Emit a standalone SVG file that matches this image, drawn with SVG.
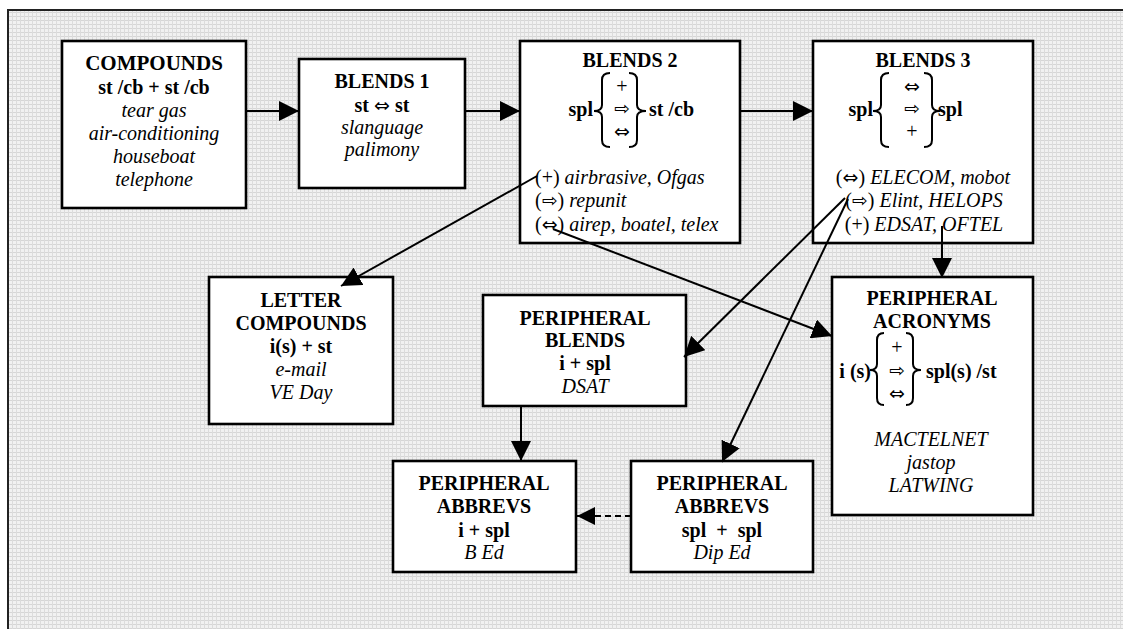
<svg xmlns="http://www.w3.org/2000/svg" width="1123" height="629" viewBox="0 0 1123 629">
<defs>
<pattern id="grid" width="4" height="4" patternUnits="userSpaceOnUse">
<rect width="4" height="4" fill="#f1f1f1"/>
<rect width="4" height="1" fill="#d6d6d6"/>
<rect width="1" height="4" fill="#dcdcdc"/>
</pattern>
<marker id="ah" markerUnits="userSpaceOnUse" markerWidth="20" markerHeight="20" refX="20" refY="10" orient="auto">
<path d="M0,0 L20,10 L0,20 z" fill="#000"/>
</marker>
<marker id="ahs" markerUnits="userSpaceOnUse" markerWidth="18" markerHeight="18" refX="18" refY="9" orient="auto">
<path d="M0,0 L18,9 L0,18 z" fill="#000"/>
</marker>
</defs>
<style>
.box{fill:#fff;stroke:#000;stroke-width:2.6}
.b{font-family:"Liberation Serif","Times New Roman",serif;font-weight:bold;font-size:20px;fill:#000}
.i{font-family:"Liberation Serif","Times New Roman",serif;font-style:italic;font-size:20px;fill:#000}
.r{font-family:"Liberation Serif","Times New Roman",serif;font-size:20px;fill:#000}
.g{font-family:"DejaVu Sans",sans-serif;font-size:19px;font-weight:normal;font-style:normal}
.c{text-anchor:middle}
.brace{fill:none;stroke:#000;stroke-width:2}
.con{fill:none;stroke:#000;stroke-width:2}
</style>
<rect x="0" y="0" width="1123" height="629" fill="#fff"/>
<rect x="8" y="10" width="1115" height="619" fill="url(#grid)"/>
<path d="M8,629 L8,10 L1123,10" fill="none" stroke="#222" stroke-width="2"/>

<g id="compounds">
<rect class="box" x="62" y="41" width="184" height="167"/>
<text class="b c" x="154" y="70" style="font-size:21px">COMPOUNDS</text>
<text class="b c" x="154" y="94">st /cb + st /cb</text>
<text class="i c" x="154" y="117">tear gas</text>
<text class="i c" x="154" y="140">air-conditioning</text>
<text class="i c" x="154" y="163">houseboat</text>
<text class="i c" x="154" y="186">telephone</text>
</g>

<g id="blends1">
<rect class="box" x="299" y="59" width="166" height="129"/>
<text class="b c" x="382" y="88">BLENDS 1</text>
<text class="b c" x="382" y="112">st <tspan class="g">⇔</tspan> st</text>
<text class="i c" x="382" y="134">slanguage</text>
<text class="i c" x="382" y="156">palimony</text>
</g>

<g id="blends2">
<rect class="box" x="520" y="41" width="220" height="202"/>
<text class="b c" x="630" y="67">BLENDS 2</text>
<text class="b" x="593" y="116" text-anchor="end">spl</text>
<path class="brace" d="M610,73 Q602,73 602,80 L602,105 Q602,111 594,111 Q602,111 602,117 L602,140 Q602,147 610,147"/>
<text class="r c" x="622" y="93">+</text>
<text class="r c" x="622" y="115"><tspan class="g">⇨</tspan></text>
<text class="r c" x="622" y="138"><tspan class="g">⇔</tspan></text>
<path class="brace" d="M629,73 Q637,73 637,80 L637,105 Q637,111 646,111 Q637,111 637,117 L637,140 Q637,147 629,147"/>
<text class="b" x="649" y="116">st /cb</text>
<text class="r" x="535" y="184">(+) <tspan class="i">airbrasive, Ofgas</tspan></text>
<text class="r" x="535" y="207">(<tspan class="g">⇨</tspan>) <tspan class="i">repunit</tspan></text>
<text class="r" x="535" y="231">(<tspan class="g">⇔</tspan>) <tspan class="i">airep, boatel, telex</tspan></text>
</g>

<g id="blends3">
<rect class="box" x="813" y="41" width="220" height="202"/>
<text class="b c" x="923" y="67">BLENDS 3</text>
<text class="b" x="873" y="116" text-anchor="end">spl</text>
<path class="brace" d="M889,73 Q881,73 881,80 L881,105 Q881,111 873,111 Q881,111 881,117 L881,140 Q881,147 889,147"/>
<text class="r c" x="912" y="93"><tspan class="g">⇔</tspan></text>
<text class="r c" x="912" y="115"><tspan class="g">⇨</tspan></text>
<text class="r c" x="912" y="138">+</text>
<path class="brace" d="M924,73 Q932,73 932,80 L932,105 Q932,111 940,111 Q932,111 932,117 L932,140 Q932,147 924,147"/>
<text class="b" x="938" y="116">spl</text>
<text class="r c" x="923" y="184">(<tspan class="g">⇔</tspan>) <tspan class="i">ELECOM, mobot</tspan></text>
<text class="r c" x="924" y="207">(<tspan class="g">⇨</tspan>) <tspan class="i">Elint, HELOPS</tspan></text>
<text class="r c" x="924" y="231">(+) <tspan class="i">EDSAT, OFTEL</tspan></text>
</g>

<g id="letter-compounds">
<rect class="box" x="209" y="277" width="184" height="147"/>
<text class="b c" x="301" y="307">LETTER</text>
<text class="b c" x="301" y="330">COMPOUNDS</text>
<text class="b c" x="301" y="353">i(s) + st</text>
<text class="i c" x="301" y="376">e-mail</text>
<text class="i c" x="301" y="399">VE Day</text>
</g>

<g id="peripheral-blends">
<rect class="box" x="483" y="295" width="203" height="111"/>
<text class="b c" x="585" y="325">PERIPHERAL</text>
<text class="b c" x="585" y="347">BLENDS</text>
<text class="b c" x="585" y="370">i + spl</text>
<text class="i c" x="585" y="393">DSAT</text>
</g>

<g id="peripheral-acronyms">
<rect class="box" x="832" y="277" width="201" height="238"/>
<text class="b c" x="932" y="305">PERIPHERAL</text>
<text class="b c" x="932" y="328">ACRONYMS</text>
<text class="b" x="871" y="378" text-anchor="end">i (s)</text>
<path class="brace" d="M884,333 Q877,333 877,340 L877,364 Q877,370 870,370 Q877,370 877,376 L877,398 Q877,405 884,405"/>
<text class="r c" x="897" y="354">+</text>
<text class="r c" x="897" y="377"><tspan class="g">⇨</tspan></text>
<text class="r c" x="897" y="400"><tspan class="g">⇔</tspan></text>
<path class="brace" d="M906,333 Q913,333 913,340 L913,364 Q913,370 921,370 Q913,370 913,376 L913,398 Q913,405 906,405"/>
<text class="b" x="926" y="378">spl(s) /st</text>
<text class="i c" x="931" y="446">MACTELNET</text>
<text class="i c" x="931" y="469">jastop</text>
<text class="i c" x="931" y="492">LATWING</text>
</g>

<g id="peripheral-abbrevs-1">
<rect class="box" x="393" y="461" width="183" height="111"/>
<text class="b c" x="484" y="490">PERIPHERAL</text>
<text class="b c" x="484" y="513">ABBREVS</text>
<text class="b c" x="484" y="537">i + spl</text>
<text class="i c" x="484" y="559">B Ed</text>
</g>

<g id="peripheral-abbrevs-2">
<rect class="box" x="631" y="461" width="182" height="111"/>
<text class="b c" x="722" y="490">PERIPHERAL</text>
<text class="b c" x="722" y="513">ABBREVS</text>
<text class="b c" x="722" y="537" xml:space="preserve">spl  +  spl</text>
<text class="i c" x="722" y="559">Dip Ed</text>
</g>

<g id="connectors">
<path class="con" d="M246,111 L299,111" marker-end="url(#ah)"/>
<path class="con" d="M465,111 L520,111" marker-end="url(#ah)"/>
<path class="con" d="M740,111 L813,111" marker-end="url(#ah)"/>
<path class="con" d="M537,176 L341,286" marker-end="url(#ah)"/>
<path class="con" d="M553,229 L832,336" marker-end="url(#ah)"/>
<path class="con" d="M845,198 L684,357" marker-end="url(#ah)"/>
<path class="con" d="M848,199 L722,462" marker-end="url(#ah)"/>
<path class="con" d="M942,226 L942,278" marker-end="url(#ah)"/>
<path class="con" d="M521,406 L521,461" marker-end="url(#ah)"/>
<path class="con" d="M631,516 L577,516" stroke-dasharray="6 4" marker-end="url(#ahs)"/>
</g>
</svg>
